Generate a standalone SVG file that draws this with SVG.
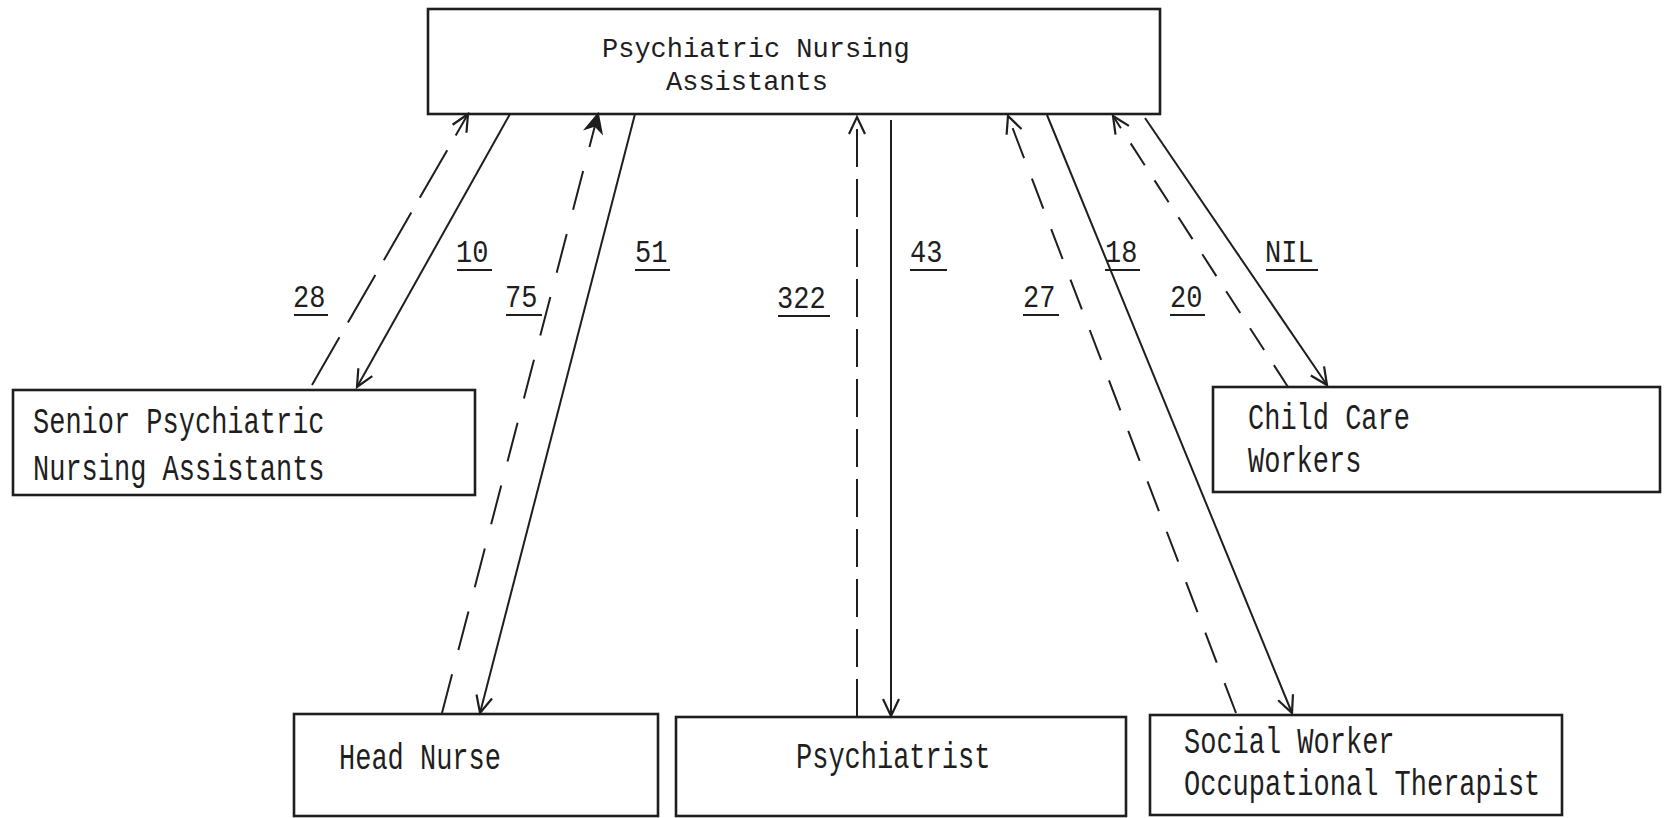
<svg xmlns="http://www.w3.org/2000/svg" width="1666" height="818" viewBox="0 0 1666 818">
<style>
.box{fill:none;stroke:#1e1e1e;stroke-width:2.6}
.t{font-family:"Liberation Mono","Courier New",monospace;font-size:27px;fill:#1e1e1e}
.lbl{font-family:"Liberation Mono","Courier New",monospace;font-size:27px;fill:#1e1e1e}
.ul{stroke:#1e1e1e;stroke-width:2}
.c{fill:none;stroke:#1e1e1e;stroke-width:2}
</style>
<defs>
<marker id="open" markerUnits="userSpaceOnUse" markerWidth="40" markerHeight="40" viewBox="-20 -20 40 40" refX="0" refY="0" orient="auto" overflow="visible">
<path d="M -17 -8 L 0 0 L -17 8" fill="none" stroke="#1e1e1e" stroke-width="2.2"/>
</marker>
<marker id="filled" markerUnits="userSpaceOnUse" markerWidth="40" markerHeight="40" viewBox="-20 -20 40 40" refX="0" refY="0" orient="auto" overflow="visible">
<path d="M -17 -8 L 0 0 L -17 8 L -12 0 Z" fill="#1e1e1e" stroke="#1e1e1e" stroke-width="2"/>
</marker>
</defs>
<rect width="1666" height="818" fill="#ffffff"/>

<g id="pna">
<rect class="box" x="428" y="9" width="732" height="105"/>
<text class="t" transform="translate(602,57) scale(1,1.04)">Psychiatric Nursing</text>
<text class="t" transform="translate(666,89.5) scale(1,1.04)">Assistants</text>
</g>

<g id="senior">
<rect class="box" x="13" y="390" width="462" height="105"/>
<text class="t" transform="translate(33,433) scale(1,1.35)">Senior Psychiatric</text>
<text class="t" transform="translate(33,480) scale(1,1.35)">Nursing Assistants</text>
</g>

<g id="childcare">
<rect class="box" x="1213" y="387" width="447" height="105"/>
<text class="t" transform="translate(1248,429) scale(1,1.35)">Child Care</text>
<text class="t" transform="translate(1248,472) scale(1,1.35)">Workers</text>
</g>

<g id="headnurse">
<rect class="box" x="294" y="714" width="364" height="102"/>
<text class="t" transform="translate(339,769) scale(1,1.35)">Head Nurse</text>
</g>

<g id="psychiatrist">
<rect class="box" x="676" y="717" width="450" height="99"/>
<text class="t" transform="translate(796,768) scale(1,1.35)">Psychiatrist</text>
</g>

<g id="socialworker">
<rect class="box" x="1150" y="715" width="412" height="100"/>
<text class="t" transform="translate(1184,753) scale(1,1.35)">Social Worker</text>
<text class="t" transform="translate(1184,795) scale(1,1.35)">Occupational Therapist</text>
</g>

<g id="connectors">
<line class="c" x1="312" y1="385" x2="468" y2="114" stroke-dasharray="55 17" marker-end="url(#open)"/>
<line class="c" x1="510" y1="114" x2="357" y2="387" marker-end="url(#open)"/>
<line class="c" x1="442" y1="713" x2="598" y2="114" stroke-dasharray="40 25" marker-end="url(#filled)"/>
<line class="c" x1="635" y1="114" x2="480" y2="713" marker-end="url(#open)"/>
<line class="c" x1="857" y1="717" x2="857" y2="117" stroke-dasharray="38 12" marker-end="url(#open)"/>
<line class="c" x1="891" y1="120" x2="891" y2="716" marker-end="url(#open)"/>
<line class="c" x1="1236" y1="713" x2="1008" y2="116" stroke-dasharray="32 22" marker-end="url(#open)"/>
<line class="c" x1="1047" y1="115" x2="1292" y2="713" marker-end="url(#open)"/>
<line class="c" x1="1288" y1="387" x2="1113" y2="116" stroke-dasharray="26 18" marker-end="url(#open)"/>
<line class="c" x1="1145" y1="118" x2="1327" y2="385" marker-end="url(#open)"/>
</g>

<g id="labels">
<text class="lbl" transform="translate(293,307) scale(1,1.13)">28</text>
<line class="ul" x1="294" y1="315" x2="328" y2="315"/>
<text class="lbl" transform="translate(456,262) scale(1,1.13)">10</text>
<line class="ul" x1="457" y1="270" x2="492" y2="270"/>
<text class="lbl" transform="translate(505,307) scale(1,1.13)">75</text>
<line class="ul" x1="506" y1="315" x2="542" y2="315"/>
<text class="lbl" transform="translate(635,262) scale(1,1.13)">51</text>
<line class="ul" x1="635" y1="270" x2="670" y2="270"/>
<text class="lbl" transform="translate(777,308) scale(1,1.13)">322</text>
<line class="ul" x1="778" y1="316" x2="830" y2="316"/>
<text class="lbl" transform="translate(910,262) scale(1,1.13)">43</text>
<line class="ul" x1="910" y1="270" x2="947" y2="270"/>
<text class="lbl" transform="translate(1105,262) scale(1,1.13)">18</text>
<line class="ul" x1="1105" y1="270" x2="1140" y2="270"/>
<text class="lbl" transform="translate(1023,307) scale(1,1.13)">27</text>
<line class="ul" x1="1023" y1="315" x2="1059" y2="315"/>
<text class="lbl" transform="translate(1170,307) scale(1,1.13)">20</text>
<line class="ul" x1="1170" y1="315" x2="1205" y2="315"/>
<text class="lbl" transform="translate(1265,262) scale(1,1.13)">NIL</text>
<line class="ul" x1="1266" y1="270" x2="1318" y2="270"/>
</g>
</svg>
